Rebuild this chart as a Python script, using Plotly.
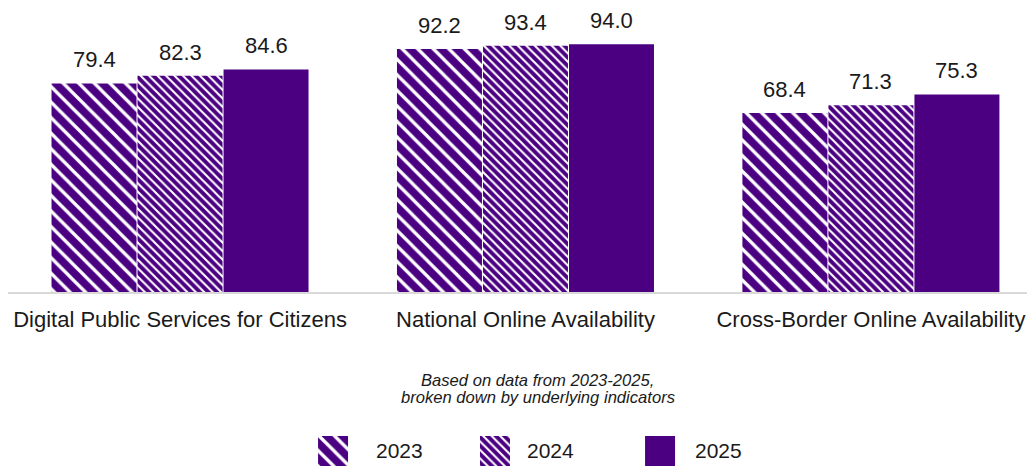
import plotly.graph_objects as go

categories = ["Digital Public Services for Citizens", "National Online Availability", "Cross-Border Online Availability"]
years = ["2023", "2024", "2025"]
values_2023 = [79.4, 92.2, 68.4]
values_2024 = [82.3, 93.4, 71.3]
values_2025 = [84.6, 94.0, 75.3]

series = [values_2023, values_2024, values_2025]
INDIGO = "#4B0082"
TEXT = "#1a1a1a"
FONT = "Liberation Sans, Arial, sans-serif"

pat_shapes = ["\\", "\\", ""]
pat_sizes = [11, 6, 8]
pat_solid = [0.3, 0.35, 0.3]

BARGAP = 0.253
BARGROUPGAP = 0.012

# layout of the custom legend (fractions of the legend strip)
LEGEND_X = [0.3165, 0.4742, 0.6349]
LEGEND_TEXT_X = [0.3564, 0.5034, 0.667]
LEGEND_W = 0.0292

fig = go.Figure()
xs = list(range(len(categories)))
for k, (yr, vals) in enumerate(zip(years, series)):
    fig.add_trace(go.Bar(
        x=xs, y=vals, name=yr, showlegend=False,
        marker=dict(color=INDIGO, line=dict(width=0),
                    pattern=dict(shape=pat_shapes[k], fgcolor="white", bgcolor=INDIGO,
                                 size=pat_sizes[k], solidity=pat_solid[k], fillmode="replace")),
        hoverinfo="skip",
    ))

# value labels above bars
w = (1 - BARGAP) / len(years)
for j, vals in enumerate(series):
    for i, v in enumerate(vals):
        fig.add_annotation(
            x=i + (j - (len(years) - 1) / 2) * w, y=v, xref="x", yref="y",
            text=f"{v:.1f}", showarrow=False, yanchor="bottom", yshift=9,
            font=dict(size=22, color=TEXT, family=FONT),
        )

# legend keys
fig.add_trace(go.Bar(
    x=LEGEND_X, y=[1] * len(years), width=[LEGEND_W] * len(years),
    xaxis="x2", yaxis="y2", showlegend=False, hoverinfo="skip",
    marker=dict(color=INDIGO, line=dict(width=0),
                pattern=dict(shape=pat_shapes, fgcolor="white", bgcolor=INDIGO,
                             size=pat_sizes, solidity=pat_solid, fillmode="replace")),
))
for tx, yr in zip(LEGEND_TEXT_X, years):
    fig.add_annotation(x=tx, y=0.5, xref="x2", yref="y2", text=yr, showarrow=False,
                       xanchor="left", yanchor="middle",
                       font=dict(size=21, color=TEXT, family=FONT))

fig.add_annotation(text="<i>Based on data from 2023-2025,</i>", xref="paper", yref="paper",
                   x=0.516, y=0.1963, yanchor="middle", showarrow=False,
                   font=dict(size=16.6, color=TEXT, family=FONT))
fig.add_annotation(text="<i>broken down by underlying indicators</i>", xref="paper", yref="paper",
                   x=0.516, y=0.1575, yanchor="middle", showarrow=False,
                   font=dict(size=16.6, color=TEXT, family=FONT))

fig.update_layout(
    width=1027, height=458,
    margin=dict(l=0, r=0, t=20, b=0),
    paper_bgcolor="white", plot_bgcolor="white",
    barmode="group", bargap=BARGAP, bargroupgap=BARGROUPGAP,
    font=dict(family=FONT, color=TEXT),
    showlegend=False,
    xaxis=dict(
        tickmode="array", tickvals=xs, ticktext=categories,
        range=[-0.498, 2.475], showgrid=False, zeroline=False,
        showline=True, linecolor="#d9d9d9", linewidth=2,
        ticks="", ticklabelstandoff=7, automargin=False,
        tickfont=dict(size=22, color=TEXT, family=FONT),
    ),
    yaxis=dict(range=[1.9, 100], domain=[0.3973, 1], visible=False,
               showgrid=False, zeroline=False, automargin=False),
    xaxis2=dict(range=[0, 1], domain=[0, 1], anchor="y2", visible=False,
                showgrid=False, zeroline=False, automargin=False),
    yaxis2=dict(range=[0, 1], domain=[0, 0.0685], anchor="x2", visible=False,
                showgrid=False, zeroline=False, automargin=False),
)

fig.write_html("out.html")
